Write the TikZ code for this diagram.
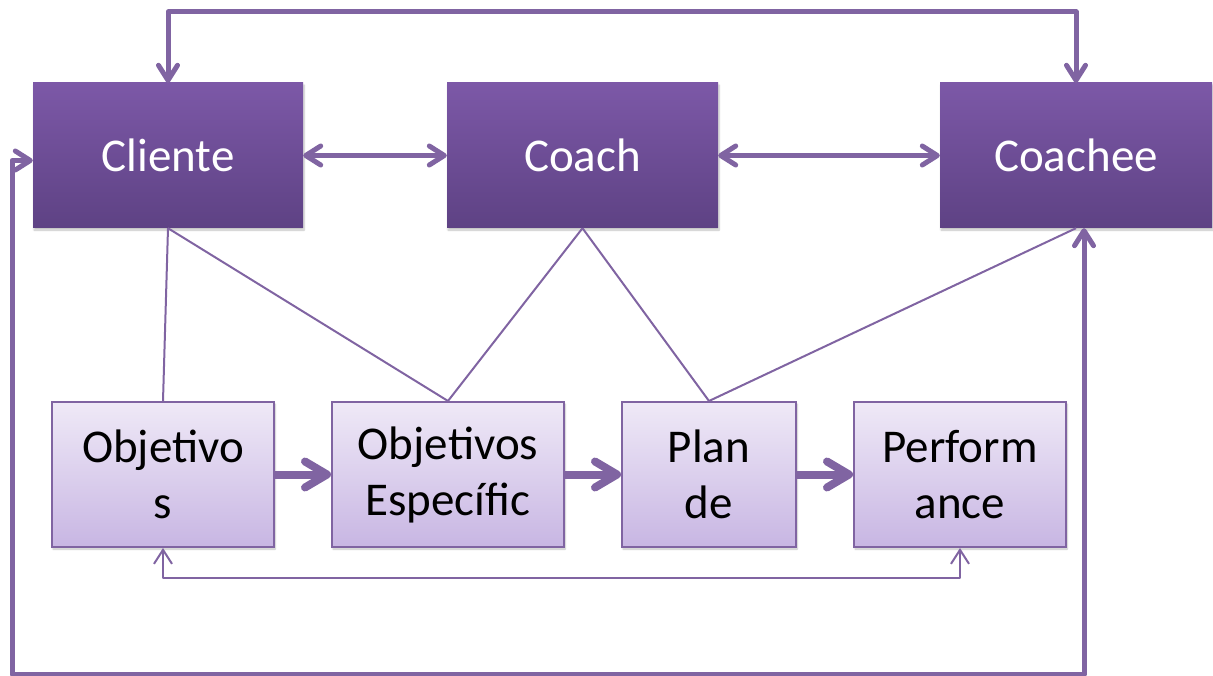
\documentclass[tikz,border=0pt]{standalone}
\usepackage{fontspec}
\setmainfont{Carlito}
\usetikzlibrary{arrows.meta,shadows.blur}
\definecolor{lineviolet}{HTML}{8064A2}
\definecolor{darktop}{HTML}{7C58A7}
\definecolor{darkbot}{HTML}{5E4284}
\definecolor{lighttop}{HTML}{EFE9F7}
\definecolor{lightbot}{HTML}{C8B6E3}
\tikzset{
  rolebox/.style={rectangle, minimum width=270pt, minimum height=145pt,
    top color=darktop, bottom color=darkbot, draw=none, text=white,
    font=\fontsize{47}{56}\selectfont,
    blur shadow={shadow blur steps=6, shadow xshift=1pt, shadow yshift=-2pt, shadow opacity=25}},
  stagebox/.style={rectangle, minimum height=145pt, inner sep=0pt,
    top color=lighttop, bottom color=lightbot, draw=lineviolet, line width=2pt,
    text=black, align=center, font=\fontsize{47}{56}\selectfont,
    blur shadow={shadow blur steps=6, shadow xshift=1pt, shadow yshift=-2pt, shadow opacity=25}},
  linkarrow/.style={draw=lineviolet, line width=5pt, line join=round, line cap=round,
    {Straight Barb[length=15pt, width=19pt, round]}-{Straight Barb[length=15pt, width=19pt, round]}},
  flowarrow/.style={draw=lineviolet, line width=8pt,
    -{Straight Barb[length=22pt, width=26pt, round]}},
  tieline/.style={draw=lineviolet, line width=2pt},
  loopback/.style={draw=lineviolet, line width=2pt, line join=round,
    {Straight Barb[length=14pt, width=18pt]}-{Straight Barb[length=14pt, width=18pt]}},
}
\begin{document}
\begin{tikzpicture}[x=1pt, y=-1pt]
  \useasboundingbox (0,0) rectangle (1213,676);

  % roles
  \node[rolebox] (cliente) at (168,155.5) {Cliente};
  \node[rolebox, minimum width=271pt] (coach) at (582.5,155.5) {Coach};
  \node[rolebox, minimum width=272pt] (coachee) at (1076,155.5) {Coachee};

  % process stages
  \node[stagebox, minimum width=222pt] (obj) at (163,474.5) {Objetivo\\s};
  \node[stagebox, minimum width=232pt] (esp) at (448,474.5) {Objetivos\\Específic};
  \node[stagebox, minimum width=174pt] (plan) at (709,474.5) {Plan\\de};
  \node[stagebox, minimum width=212pt] (perf) at (960,474.5) {Perform\\ance};

  % routing points
  \coordinate (toprail) at (620,12);
  \coordinate (botrail) at (12,674);
  \coordinate (fbrail) at (560,578);
  \coordinate (coacheein) at ([xshift=8pt]coachee.south);
  \coordinate (clientein) at ([yshift=-5pt]cliente.west);

  % ties between roles and stages
  \draw[tieline] (cliente.south) -- (obj.north);
  \draw[tieline] (cliente.south) -- (esp.north);
  \draw[tieline] (coach.south) -- (esp.north);
  \draw[tieline] (coach.south) -- (plan.north);
  \draw[tieline] (coachee.south) -- (plan.north);

  % role links
  \draw[linkarrow] (cliente.east) -- (coach.west);
  \draw[linkarrow] (coach.east) -- (coachee.west);
  \draw[linkarrow] (cliente.north) |- (toprail) -| (coachee.north);
  \draw[linkarrow] (clientein) -| (botrail) -| (coacheein);

  % stage flow
  \draw[flowarrow] (obj.east) -- (esp.west);
  \draw[flowarrow] (esp.east) -- (plan.west);
  \draw[flowarrow] (plan.east) -- (perf.west);

  % feedback
  \draw[loopback] (obj.south) |- (fbrail) -| (perf.south);
\end{tikzpicture}
\end{document}
